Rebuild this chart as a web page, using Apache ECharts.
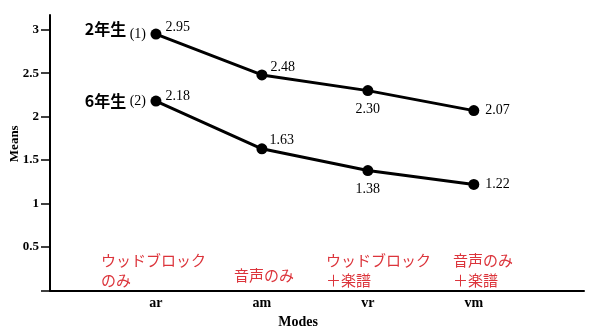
<!DOCTYPE html>
<html><head><meta charset="utf-8">
<script src="https://cdn.jsdelivr.net/npm/echarts@6/dist/echarts.min.js"></script>
<style>html,body{margin:0;padding:0;background:#fff}#c{width:600px;height:328px}</style>
</head><body><div id="c"></div>
<script>
const categories = ['ar', 'am', 'vr', 'vm'];
const grade2 = [2.95, 2.48, 2.30, 2.07];
const grade6 = [2.18, 1.63, 1.38, 1.22];
const seriesNames = ['2年生', '6年生'];
const seriesTags = ['(1)', '(2)'];
const yTicks = [0.5, 1, 1.5, 2, 2.5, 3];
const modeNotes = ['ウッドブロック\nのみ', '音声のみ', 'ウッドブロック\n＋楽譜', '音声のみ\n＋楽譜'];

const serif = 'Liberation Serif';
const sans = 'Noto Sans CJK JP';

const pos2 = [{position:'right',distance:4,offset:[0,-7]},{position:'right',distance:3,offset:[0,-8]},{position:'bottom',distance:6},{position:'right',distance:6}];
const pos6 = [{position:'right',distance:4,offset:[0,-5]},{position:'right',distance:2,offset:[0,-9]},{position:'bottom',distance:6},{position:'right',distance:6}];

function mk(name, tag, vals, pos, raise) {
  return {
    type: 'line', name,
    data: vals.map((v, i) => ({ value: [i + 1, v], label: Object.assign({ show: true }, pos[i]) })),
    symbol: 'circle', symbolSize: 11,
    itemStyle: { color: '#000' },
    lineStyle: { color: '#000', width: 3 },
    label: { color: '#000', fontFamily: serif, fontSize: 14, formatter: p => p.value[1].toFixed(2) },
    emphasis: { disabled: true },
    markPoint: {
      symbol: 'circle', symbolSize: 2,
      itemStyle: { color: 'rgba(0,0,0,0)' },
      emphasis: { disabled: true },
      data: [{ coord: [1, vals[0]], label: {
        show: true, position: 'left', distance: 9,
        formatter: '{a|' + name + '} {b|' + tag + '}',
        rich: {
          a: { fontFamily: sans, fontWeight: 'bold', fontSize: 16, color: '#000', padding: [0, 0, raise, 0] },
          b: { fontFamily: serif, fontSize: 14, color: '#000' }
        }
      } }]
    }
  };
}

const chart = echarts.init(document.getElementById('c'));
chart.setOption({
  animation: false,
  grid: { left: 50, right: 16, top: 15, bottom: 37.5, outerBoundsMode: 'none', containLabel: false },
  xAxis: {
    type: 'value', min: 0, max: 5.04, interval: 1,
    name: 'Modes', nameLocation: 'middle', nameGap: 22,
    nameTextStyle: { fontFamily: serif, fontWeight: 'bold', fontSize: 14, color: '#000', padding: [0, 38, 0, 0] },
    axisLine: { lineStyle: { color: '#000', width: 2 } },
    axisTick: { show: false },
    splitLine: { show: false },
    axisLabel: { customValues: [1, 2, 3, 4], formatter: v => categories[v - 1] || '', fontFamily: serif, fontWeight: 'bold', fontSize: 14, color: '#000', margin: 6 }
  },
  yAxis: {
    type: 'value', min: 0, max: 3.17,
    name: 'Means', nameLocation: 'middle', nameGap: 29, nameRotate: 90, nameMoveOverlap: false,
    nameTextStyle: { fontFamily: serif, fontWeight: 'bold', fontSize: 13, color: '#000', padding: [0, 0, 0, 18] },
    axisLine: { show: true, lineStyle: { color: '#000', width: 2 } },
    axisTick: { show: true, customValues: [0].concat(yTicks), length: 9, lineStyle: { color: '#000', width: 1.5 } },
    splitLine: { show: false },
    axisLabel: { customValues: yTicks, fontFamily: serif, fontWeight: 'bold', fontSize: 13, color: '#000', margin: 11 }
  },
  series: [mk(seriesNames[0], seriesTags[0], grade2, pos2, 10), mk(seriesNames[1], seriesTags[1], grade6, pos6, 0)]
});

const notePos = [[101, 250], [234, 265], [326, 250], [453, 250]];
chart.setOption({
  graphic: modeNotes.map((t, i) => ({
    type: 'text', left: notePos[i][0], top: notePos[i][1],
    style: { text: t, fill: '#dc343b', font: '15px "Noto Sans CJK JP"', lineHeight: 20 }
  }))
});
</script></body></html>
